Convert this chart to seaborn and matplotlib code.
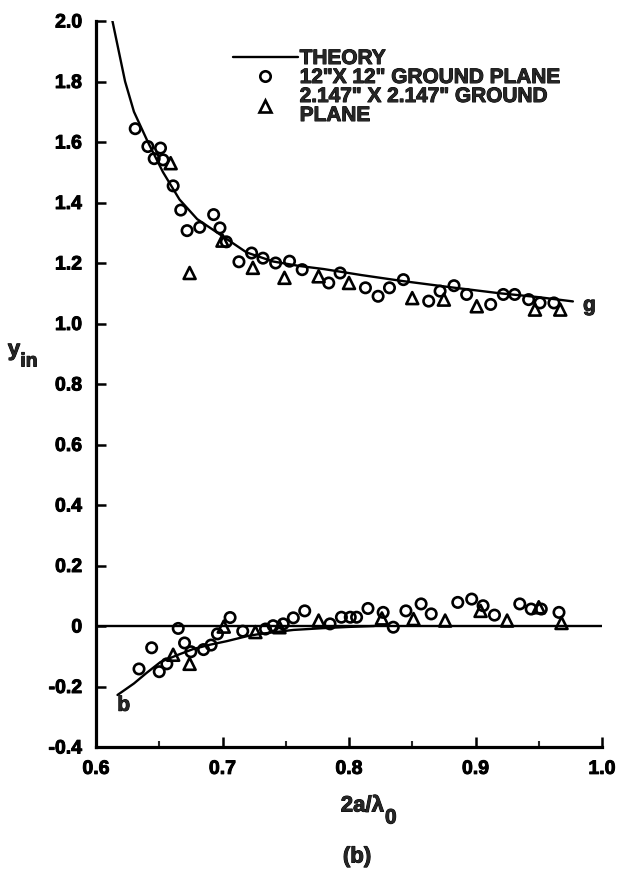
import matplotlib
matplotlib.use("Agg")
import matplotlib.pyplot as plt
import matplotlib.patheffects as pe
import seaborn as sns
from matplotlib.lines import Line2D

# ---- data ----
theory_g_x = [0.613, 0.618, 0.623, 0.630, 0.641, 0.653, 0.666, 0.680, 0.696,
              0.719, 0.740, 0.761, 0.780, 0.810, 0.843, 0.880, 0.919, 0.950, 0.977]
theory_g_y = [2.00, 1.90, 1.80, 1.70, 1.60, 1.50, 1.41, 1.345, 1.30,
              1.235, 1.205, 1.19, 1.18, 1.16, 1.14, 1.12, 1.10, 1.087, 1.073]

theory_b_x = [0.617, 0.630, 0.640, 0.651, 0.665, 0.677, 0.690, 0.7035, 0.720,
              0.730, 0.756, 0.780, 0.800, 0.820]
theory_b_y = [-0.228, -0.19, -0.155, -0.119, -0.095, -0.076, -0.062, -0.05, -0.033,
              -0.026, -0.013, -0.007, -0.003, 0.0]

circ_g_x = [0.631, 0.641, 0.646, 0.651, 0.653, 0.661, 0.667, 0.672, 0.682, 0.693,
            0.698, 0.703, 0.713, 0.723, 0.732, 0.742, 0.753, 0.763, 0.784, 0.793,
            0.813, 0.823, 0.832, 0.843, 0.863, 0.872, 0.883, 0.893, 0.912, 0.922,
            0.931, 0.942, 0.951, 0.962]
circ_g_y = [1.644, 1.585, 1.545, 1.580, 1.541, 1.455, 1.375, 1.307, 1.318, 1.360,
            1.316, 1.270, 1.204, 1.233, 1.216, 1.200, 1.206, 1.178, 1.134, 1.167,
            1.118, 1.090, 1.118, 1.145, 1.074, 1.107, 1.125, 1.096, 1.063, 1.096,
            1.096, 1.079, 1.068, 1.068]

tri_g_x = [0.659, 0.674, 0.700, 0.724, 0.749, 0.776, 0.800, 0.850, 0.875, 0.901,
           0.947, 0.967]
tri_g_y = [1.530, 1.167, 1.274, 1.184, 1.151, 1.156, 1.134, 1.084, 1.079, 1.057,
           1.046, 1.046]

circ_b_x = [0.634, 0.644, 0.650, 0.656, 0.665, 0.670, 0.675, 0.685, 0.691, 0.696,
            0.706, 0.716, 0.734, 0.740, 0.748, 0.756, 0.765, 0.785, 0.794, 0.801,
            0.806, 0.815, 0.827, 0.835, 0.845, 0.857, 0.865, 0.886, 0.897, 0.906,
            0.915, 0.935, 0.944, 0.952, 0.966]
circ_b_y = [-0.142, -0.072, -0.151, -0.125, -0.008, -0.056, -0.085, -0.078, -0.063, -0.026,
            0.028, -0.017, -0.010, 0.001, 0.007, 0.027, 0.050, 0.007, 0.029, 0.029,
            0.029, 0.058, 0.045, -0.004, 0.050, 0.073, 0.040, 0.078, 0.089, 0.067,
            0.036, 0.073, 0.056, 0.056, 0.045]

tri_b_x = [0.661, 0.674, 0.701, 0.726, 0.745, 0.776, 0.826, 0.851, 0.876, 0.904,
           0.925, 0.950, 0.968]
tri_b_y = [-0.095, -0.125, -0.002, -0.020, -0.004, 0.018, 0.025, 0.023, 0.018, 0.050,
           0.018, 0.062, 0.010]

x_ticks = [0.6, 0.7, 0.8, 0.9, 1.0]
x_ticklabels = ["0.6", "0.7", "0.8", "0.9", "1.0"]
y_ticks = [-0.4, -0.2, 0.0, 0.2, 0.4, 0.6, 0.8, 1.0, 1.2, 1.4, 1.6, 1.8, 2.0]
y_ticklabels = ["-0.4", "-0.2", "0", "0.2", "0.4", "0.6", "0.8", "1.0",
                "1.2", "1.4", "1.6", "1.8", "2.0"]

legend_labels = ["THEORY", "12\"X 12\" GROUND PLANE", "2.147\" X 2.147\" GROUND\nPLANE"]

# ---- style ----
sns.set_style("ticks")
plt.rcParams['font.family'] = ['Liberation Sans', 'DejaVu Sans']
plt.rcParams['font.weight'] = 'bold'
heavy = [pe.withStroke(linewidth=0.7, foreground="black")]

W, H = 618, 874
fig = plt.figure(figsize=(W / 100, H / 100), dpi=100)
ax = fig.add_axes([96 / W, 1 - 747 / H, (602 - 96) / W, (747 - 21) / H])

LW = 1.7
sns.lineplot(x=theory_g_x, y=theory_g_y, sort=False, color="black", lw=LW, ax=ax,
             estimator=None)
sns.lineplot(x=theory_b_x, y=theory_b_y, sort=False, color="black", lw=LW, ax=ax,
             estimator=None)
ax.axhline(0, color="black", lw=LW)

ms_c = 56
ms_t = 74
for xs, ys in [(circ_g_x, circ_g_y), (circ_b_x, circ_b_y)]:
    sns.scatterplot(x=xs, y=ys, marker="o", s=ms_c, facecolors="none",
                    edgecolor="black", linewidth=1.9, ax=ax, zorder=3)
for xs, ys in [(tri_g_x, tri_g_y), (tri_b_x, tri_b_y)]:
    sns.scatterplot(x=xs, y=ys, marker="^", s=ms_t, facecolors="none",
                    edgecolor="black", linewidth=1.9, ax=ax, zorder=3)

ax.set_xlim(0.6, 1.0)
ax.set_ylim(-0.4, 2.0)
ax.set_xticks(x_ticks)
ax.set_xticklabels(x_ticklabels)
ax.set_xticks([0.65, 0.75, 0.85, 0.95], minor=True)
ax.set_yticks(y_ticks)
ax.set_yticklabels(y_ticklabels)

for s in ["top", "right"]:
    ax.spines[s].set_visible(False)
for s in ["left", "bottom"]:
    ax.spines[s].set_linewidth(2.3)
    ax.spines[s].set_color("black")

ax.tick_params(axis="both", which="major", direction="in", length=7, width=1.8,
               labelsize=14, colors="black")
ax.tick_params(axis="x", which="minor", direction="in", length=4, width=1.5)
ax.tick_params(axis="y", pad=10)
ax.tick_params(axis="x", pad=10)
for lab in ax.get_xticklabels() + ax.get_yticklabels():
    lab.set_fontweight("bold")
    lab.set_path_effects(heavy)

# curve labels
ax.text(0.985, 1.06, "g", fontsize=15, fontweight="bold", ha="left", va="center",
        path_effects=heavy)
ax.text(0.622, -0.262, "b", fontsize=15, fontweight="bold", ha="center", va="center",
        path_effects=heavy)

# legend
handles = [
    Line2D([], [], color="black", lw=LW),
    Line2D([], [], color="black", marker="o", ls="none", markersize=7.5,
           markerfacecolor="none", markeredgewidth=1.9),
    Line2D([], [], color="black", marker="^", ls="none", markersize=8.5,
           markerfacecolor="none", markeredgewidth=1.9),
]
leg = ax.legend(handles, legend_labels, loc="upper left",
                bbox_to_anchor=(233 / W, 1 - 49 / H), bbox_transform=fig.transFigure,
                frameon=False, handlelength=3.1, handletextpad=0.1,
                labelspacing=0.0, borderpad=0, borderaxespad=0,
                prop={"weight": "bold", "size": 15})
for t in leg.get_texts():
    t.set_path_effects(heavy)
    t.set_linespacing(1.0)

# axis labels
fig.text(14 / W, 1 - 350 / H, "y", fontsize=16, fontweight="bold", ha="center",
         va="center", path_effects=heavy)
fig.text(29 / W, 1 - 362 / H, "in", fontsize=14, fontweight="bold", ha="center",
         va="center", path_effects=heavy)
fig.text(384 / W, 1 - 806 / H, "2a/λ", fontsize=16, fontweight="bold", ha="right",
         va="center", path_effects=heavy)
fig.text(385 / W, 1 - 818 / H, "0", fontsize=15, fontweight="bold", ha="left",
         va="center", path_effects=heavy)
fig.text(357 / W, 1 - 857 / H, "(b)", fontsize=16, fontweight="bold", ha="center",
         va="center", path_effects=heavy)

fig.savefig("out.png", dpi=100)
